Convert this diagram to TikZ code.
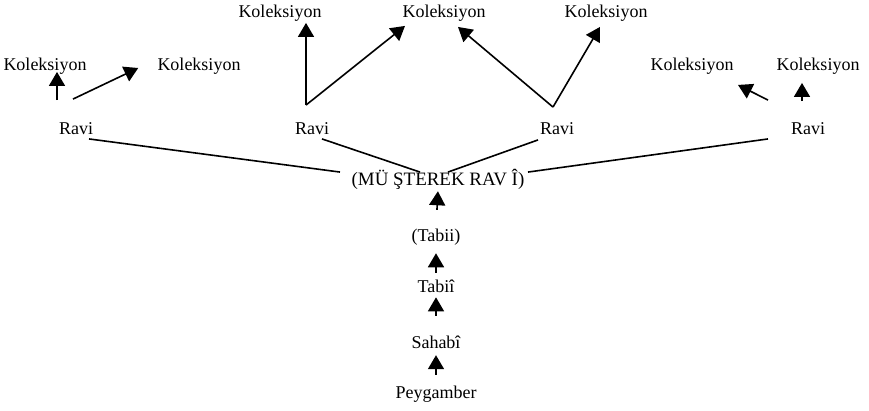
\documentclass[tikz,border=0pt]{standalone}
\usepackage{fontspec}
\setmainfont{Liberation Serif}
\usetikzlibrary{arrows.meta,calc}
\begin{document}
\begin{tikzpicture}[x=0.75pt,y=-0.75pt,
  lbl/.style={inner sep=0pt, font=\fontsize{13.5}{16}\selectfont, text height=10pt, text depth=3pt},
  conn/.style={line width=1.2pt},
  arr/.style={conn,-{Triangle[width=12pt,length=10.5pt]}}]
\useasboundingbox (0,0) rectangle (869,411);
% top collections
\node[lbl] (kT1) at (280,13) {Koleksiyon};
\node[lbl] (kT2) at (444,13) {Koleksiyon};
\node[lbl] (kT3) at (606,13) {Koleksiyon};
\node[lbl] (kA) at (45,66) {Koleksiyon};
\node[lbl] (kB) at (199,66) {Koleksiyon};
\node[lbl] (kC) at (692,66) {Koleksiyon};
\node[lbl] (kD) at (818,66) {Koleksiyon};
% narrators
\node[lbl] (ravi1) at (76,130) {Ravi};
\node[lbl] (ravi2) at (312,130) {Ravi};
\node[lbl] (ravi3) at (557,130) {Ravi};
\node[lbl] (ravi4) at (808,130) {Ravi};
% chain
\node[lbl, font=\fontsize{14.2}{16}\selectfont] (must) at (438,181) {(MÜ ŞTEREK RAV Î)};
\node[lbl] (tabiA) at (436,237) {(Tabii)};
\node[lbl] (tabiB) at (436,288) {Tabiî};
\node[lbl] (sahabi) at (436,344) {Sahabî};
\node[lbl] (peyg) at (436,394) {Peygamber};
% arrows to collections
\draw[arr] ($(ravi1.north)+(-19,-21)$) -- ($(kA.south)+(12,-3)$);
\draw[arr] ($(ravi1.north)+(-3,-22)$) -- ($(kB.west)+(-19,2)$);
\draw[arr] ($(ravi2.north)+(-6,-16)$) -- ($(kT1.south)+(26,1)$);
\draw[arr] ($(ravi2.north)+(-6,-16)$) -- ($(kT2.south)+(-39,4)$);
\draw[arr] ($(ravi3.north)+(-4,-14)$) -- ($(kT2.south)+(14,5)$);
\draw[arr] ($(ravi3.north)+(-4,-14)$) -- ($(kT3.south)+(-6,5)$);
\draw[arr] ($(ravi4.north)+(-40,-21)$) -- ($(kC.south)+(46,10)$);
\draw[arr] ($(ravi4.north)+(-6,-20)$) -- ($(kD.south)+(-16,8)$);
% lines to common narrator
\draw[conn] ($(ravi1.south)+(13,0)$) -- ($(must.north)+(-98,0)$);
\draw[conn] ($(ravi2.south)+(10,0)$) -- ($(must.north)+(-18,0)$);
\draw[conn] ($(ravi3.south)+(-19,1)$) -- ($(must.north)+(10,0)$);
\draw[conn] ($(ravi4.south)+(-40,0)$) -- ($(must.north)+(90,0)$);
% chain arrows
\draw[arr, shorten >=1pt, shorten <=13.7pt] (tabiA.north) -- (must.south);
\draw[arr, shorten >=5.5pt, shorten <=4.7pt] (tabiB.north) -- (tabiA.south);
\draw[arr, shorten >=0.3pt, shorten <=14.5pt] (sahabi.north) -- (tabiB.south);
\draw[arr, shorten >=1.7pt, shorten <=7.7pt] (peyg.north) -- (sahabi.south);
\end{tikzpicture}
\end{document}
